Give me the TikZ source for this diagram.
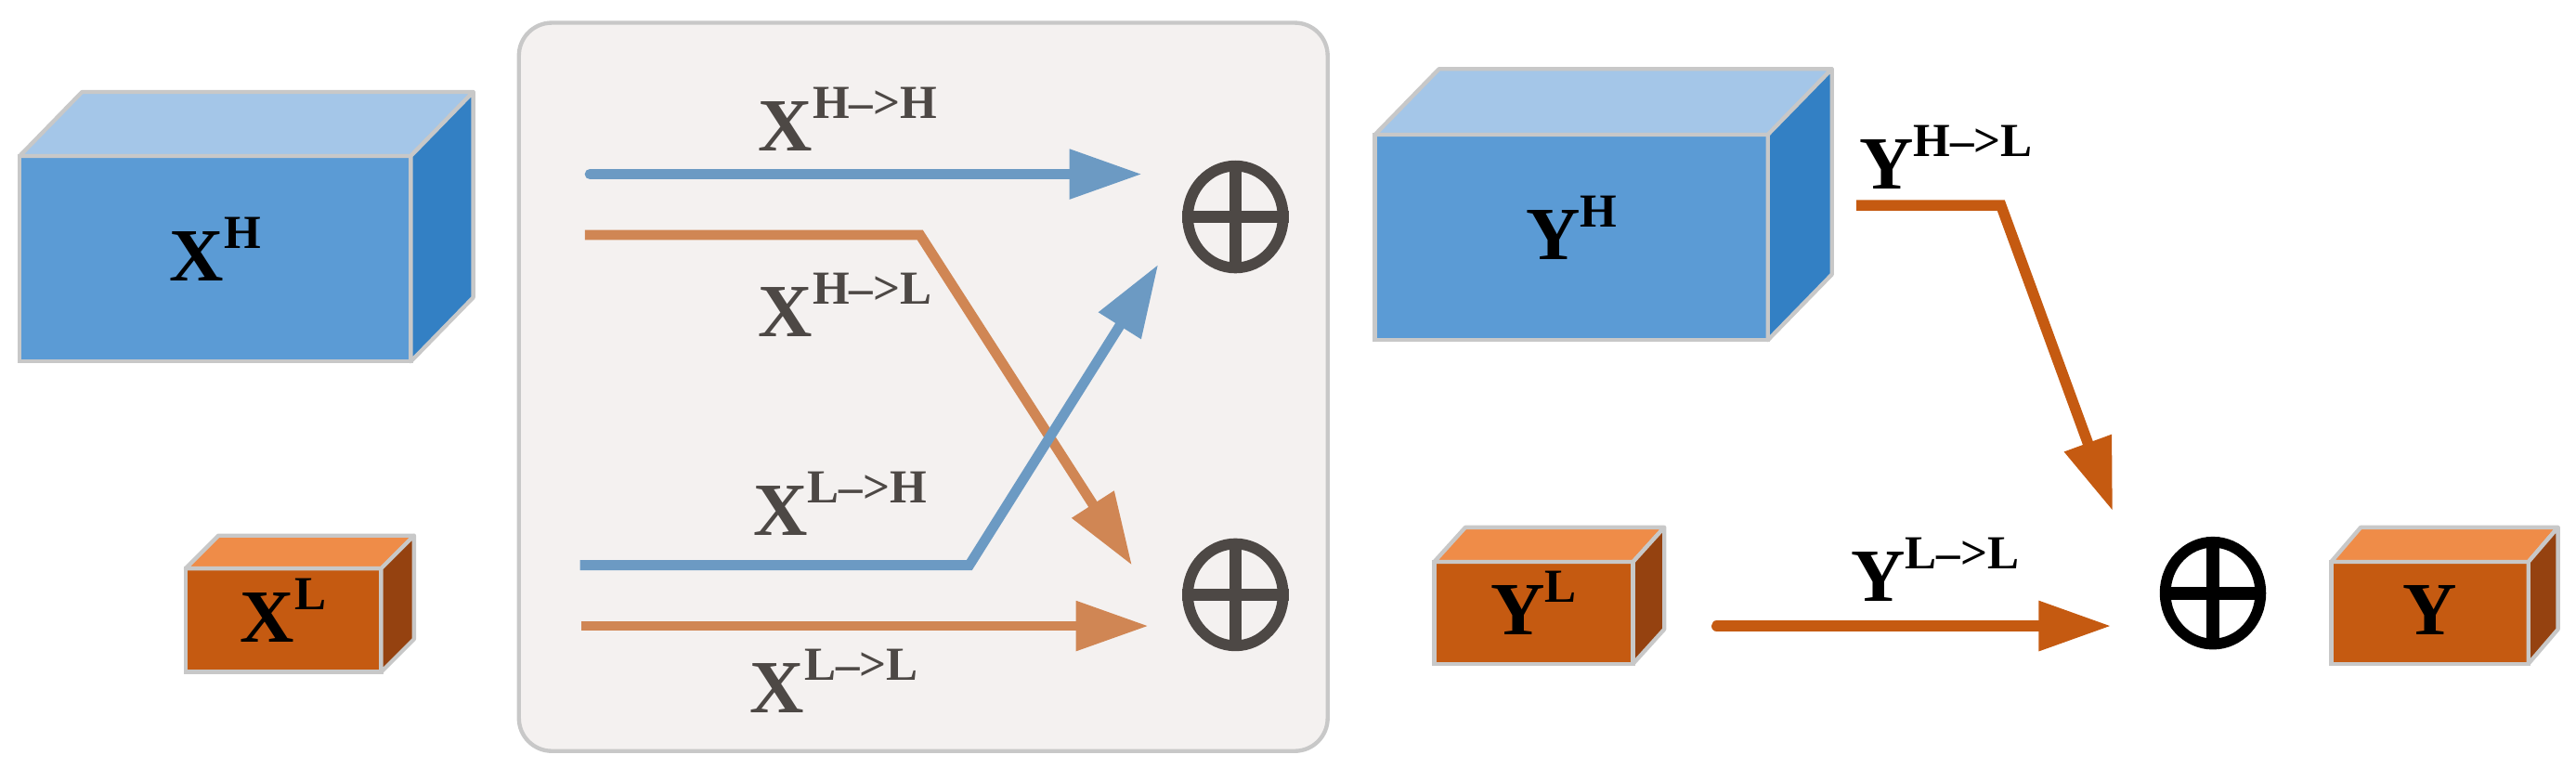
\documentclass[tikz,border=0pt]{standalone}
\usepackage{fontspec}
\setmainfont{Liberation Serif}
\usepackage{xcolor}
\usepackage{tikz}
\usetikzlibrary{arrows.meta, positioning, shapes.geometric}
\definecolor{hifront}{HTML}{5B9BD5}
\definecolor{hitop}{HTML}{A4C6E8}
\definecolor{hiside}{HTML}{3380C4}
\definecolor{lofront}{HTML}{C55A11}
\definecolor{lotop}{HTML}{EF8C48}
\definecolor{loside}{HTML}{954210}
\definecolor{edgegray}{HTML}{C8C8C8}
\definecolor{panelfill}{HTML}{F4F1F0}
\definecolor{hiline}{HTML}{6C9AC3}
\definecolor{loline}{HTML}{D08654}
\definecolor{ink}{HTML}{4D4845}
\newcommand{\feat}[2]{\textbf{#1}\raisebox{0.2cm}{\fontsize{8.2}{9}\selectfont\bfseries #2}}
\newcommand{\cubefaces}[4]{%
  \filldraw[face, fill=#3] (#1.north west) -- ++(#2) -- ([shift={(#2)}]#1.north east)
    -- (#1.north east) -- cycle;
  \filldraw[face, fill=#4] (#1.north east) -- ++(#2) -- ([shift={(#2)}]#1.south east)
    -- (#1.south east) -- cycle;}
\tikzset{
  cube/.style={rectangle, draw=edgegray, line width=0.7pt, inner sep=0pt, outer sep=0pt,
               text height=3.9mm, text depth=1.2mm, font=\fontsize{13}{15}\selectfont},
  hibox/.style={cube, fill=hifront},
  lobox/.style={cube, fill=lofront},
  face/.style={draw=edgegray, line width=0.7pt, line join=round},
  panel/.style={rectangle, draw=edgegray, fill=panelfill, rounded corners=2mm,
                line width=0.7pt, minimum width=4.92cm, minimum height=4.43cm},
  addop/.style={ellipse, draw, line width=1.9pt, minimum width=0.58cm,
                minimum height=0.62cm, inner sep=0pt},
  cross/.style={line width=2.2pt},
  tip/.style={-{Triangle[length=4.4mm, width=2.9mm]}},
  harr/.style={tip, draw=hiline, line width=1.75pt},
  larr/.style={tip, draw=loline, line width=1.75pt},
  yarr/.style={tip, draw=lofront, line width=1.85pt},
  plab/.style={anchor=base west, inner sep=0pt, font=\fontsize{13}{15}\selectfont},
}
\begin{document}
\begin{tikzpicture}[x=0.01cm, y=-0.01cm]
  \useasboundingbox (0,0) rectangle (1568,475);

  \node[hibox, minimum width=2.38cm, minimum height=1.25cm] (xh) at (131,157.5) {\feat{X}{H}};
  \cubefaces{xh}{38,-39}{hitop}{hiside}
  \node[lobox, minimum width=1.19cm, minimum height=0.63cm] (xl) at (172.5,377.5) {\feat{X}{L}};
  \cubefaces{xl}{20,-20}{lotop}{loside}

  \node[panel] (panel) at (562,235.5) {};
  \node[addop, draw=ink] (addh) at (752,132) {};
  \node[addop, draw=ink] (addl) at (752,362) {};
  \draw[ink, cross] (addh.north) -- (addh.south) (addh.west) -- (addh.east);
  \draw[ink, cross] (addl.north) -- (addl.south) (addl.west) -- (addl.east);

  \coordinate (hh0) at (359,106);  \coordinate (hh1) at (695,106);
  \coordinate (hl0) at (356,143);  \coordinate (hlb) at (560,143);  \coordinate (hl1) at (689,344);
  \coordinate (lh0) at (353,344);  \coordinate (lhb) at (590,344);  \coordinate (lh1) at (705,161);
  \coordinate (ll0) at (354,381);  \coordinate (ll1) at (699,381);
  \draw[harr, line cap=round] (hh0) -- (hh1);
  \draw[larr] (hl0) -- (hlb) -- (hl1);
  \draw[harr] (lh0) -- (lhb) -- (lh1);
  \draw[larr] (ll0) -- (ll1);

  \node[plab, text=ink] (lhh) at (461,92) {\feat{X}{H–>H}};
  \node[plab, text=ink] (lhl) at (461,205) {\feat{X}{H–>L}};
  \node[plab, text=ink] (llh) at (458,326) {\feat{X}{L–>H}};
  \node[plab, text=ink] (lll) at (456,434) {\feat{X}{L–>L}};

  \node[hibox, minimum width=2.39cm, minimum height=1.25cm] (yh) at (956.5,144.5) {\feat{Y}{H}};
  \cubefaces{yh}{39,-40}{hitop}{hiside}
  \node[lobox, minimum width=1.21cm, minimum height=0.62cm] (yl) at (933.5,373) {\feat{Y}{L}};
  \cubefaces{yl}{19,-21}{lotop}{loside}
  \node[lobox, minimum width=1.20cm, minimum height=0.62cm] (y) at (1479,373) {\textbf{Y}};
  \cubefaces{y}{18,-21}{lotop}{loside}

  \node[addop, draw=black] (addy) at (1347,361) {};
  \draw[black, cross] (addy.north) -- (addy.south) (addy.west) -- (addy.east);

  \coordinate (yhl0) at (1130,125);  \coordinate (yhlb) at (1218,125);  \coordinate (yhl1) at (1286,311);
  \coordinate (yll0) at (1045,381);  \coordinate (yll1) at (1285,381);
  \draw[yarr] (yhl0) -- (yhlb) -- (yhl1);
  \draw[yarr, line cap=round] (yll0) -- (yll1);

  \node[plab] (lyhl) at (1131,115) {\feat{Y}{H–>L}};
  \node[plab] (lyll) at (1126,366) {\feat{Y}{L–>L}};
\end{tikzpicture}
\end{document}
